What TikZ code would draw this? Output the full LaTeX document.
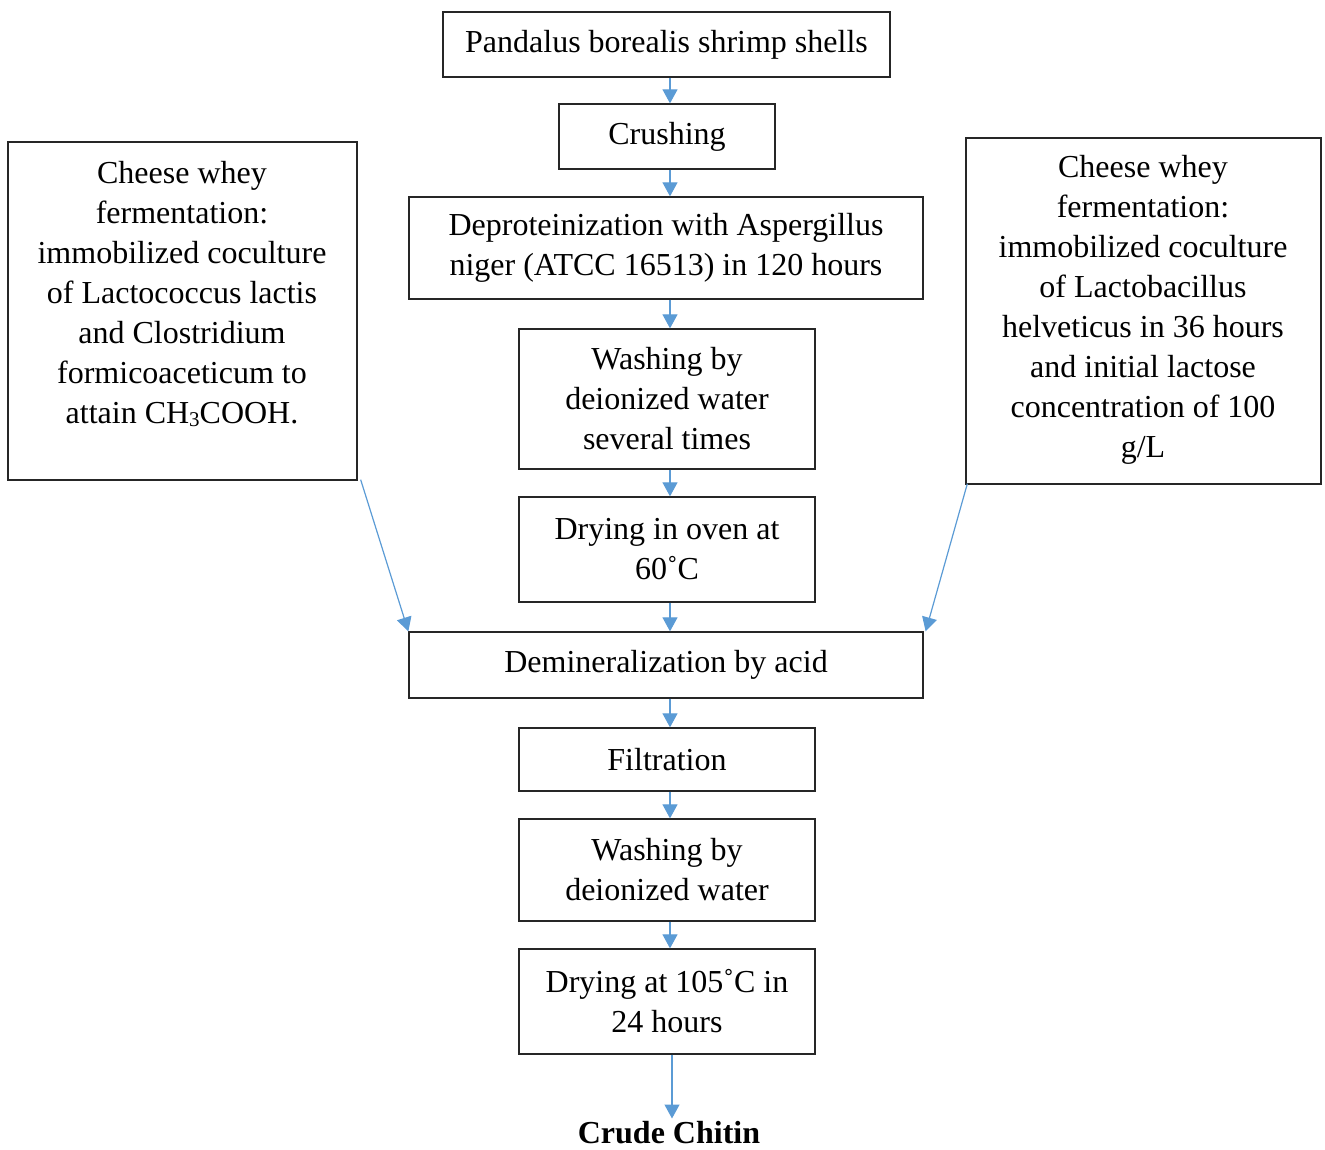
\documentclass[tikz,border=0pt]{standalone}
\usepackage{fontspec}
\setmainfont{Liberation Serif}
\usetikzlibrary{arrows.meta}
\definecolor{arrblue}{HTML}{5B9BD5}
\newcommand{\lowsub}[1]{\raisebox{-2.5pt}{\fontsize{21}{21}\selectfont #1}}
\begin{document}
\begin{tikzpicture}[x=1pt,y=-1pt,
  box/.style={draw=black!85, line width=1.3pt, inner sep=0pt, align=center,
    font=\fontsize{32}{40}\selectfont},
  txt/.style={inner sep=0pt, align=center, font=\fontsize{32}{40}\selectfont},
  arr/.style={draw=arrblue, line width=1.2pt, -{Triangle[width=15pt,length=14pt]}}]
\useasboundingbox (0,0) rectangle (1325,1149);
\coordinate (ax) at (670,0);
\node[box, minimum width=447pt, minimum height=65pt] (top) at (666.5,44.5) {Pandalus borealis shrimp shells};
\node[box, minimum width=216pt, minimum height=65pt] (crush) at (667,136.5) {Crushing};
\node[box, minimum width=514pt, minimum height=102pt] (dep) at (666,248) {Deproteinization with Aspergillus\\niger (ATCC 16513) in 120 hours};
\node[box, minimum width=296pt, minimum height=140pt] (wash1) at (667,399) {Washing by\\deionized water\\several times};
\node[box, minimum width=296pt, minimum height=105pt] (dry1) at (667,549.5) {Drying in oven at\\60˚C};
\node[box, minimum width=514pt, minimum height=66pt] (dem) at (666,665) {Demineralization by acid};
\node[box, minimum width=296pt, minimum height=63pt] (filt) at (667,759.5) {Filtration};
\node[box, minimum width=296pt, minimum height=102pt] (wash2) at (667,870) {Washing by\\deionized water};
\node[box, minimum width=296pt, minimum height=105pt] (dry2) at (667,1001.5) {Drying at 105˚C in\\24 hours};
\node[txt, font=\fontsize{32}{40}\selectfont\bfseries] (crude) at (669,1133) {Crude Chitin};
\node[box, minimum width=349pt, minimum height=338pt] (lb) at (182.5,311) {};
\node[txt] (lbt) at (182,294) {Cheese whey\\fermentation:\\immobilized coculture\\of Lactococcus lactis\\and Clostridium\\formicoaceticum to\\attain CH\lowsub{3}COOH.};
\node[box, minimum width=355pt, minimum height=346pt] (rb) at (1143.5,311) {};
\node[txt] (rbt) at (1143,310) {Cheese whey\\fermentation:\\immobilized coculture\\of Lactobacillus\\helveticus in 36 hours\\and initial lactose\\concentration of 100\\g/L};
\draw[arr] (top.south -| ax) -- (crush.north -| ax);
\draw[arr] (crush.south -| ax) -- (dep.north -| ax);
\draw[arr] (dep.south -| ax) -- (wash1.north -| ax);
\draw[arr] (wash1.south -| ax) -- (dry1.north -| ax);
\draw[arr] (dry1.south -| ax) -- (dem.north -| ax);
\draw[arr] (dem.south -| ax) -- (filt.north -| ax);
\draw[arr] (filt.south -| ax) -- (wash2.north -| ax);
\draw[arr] (wash2.south -| ax) -- (dry2.north -| ax);
\draw[arr] ([xshift=2pt]dry2.south -| ax) -- ([xshift=2pt,yshift=3pt]crude.north -| ax);
\draw[arr] ([xshift=3pt,yshift=1pt]lb.south east) -- (dem.north west);
\draw[arr] ([xshift=2pt,yshift=1pt]rb.south west) -- ([xshift=2pt]dem.north east);
\end{tikzpicture}
\end{document}
